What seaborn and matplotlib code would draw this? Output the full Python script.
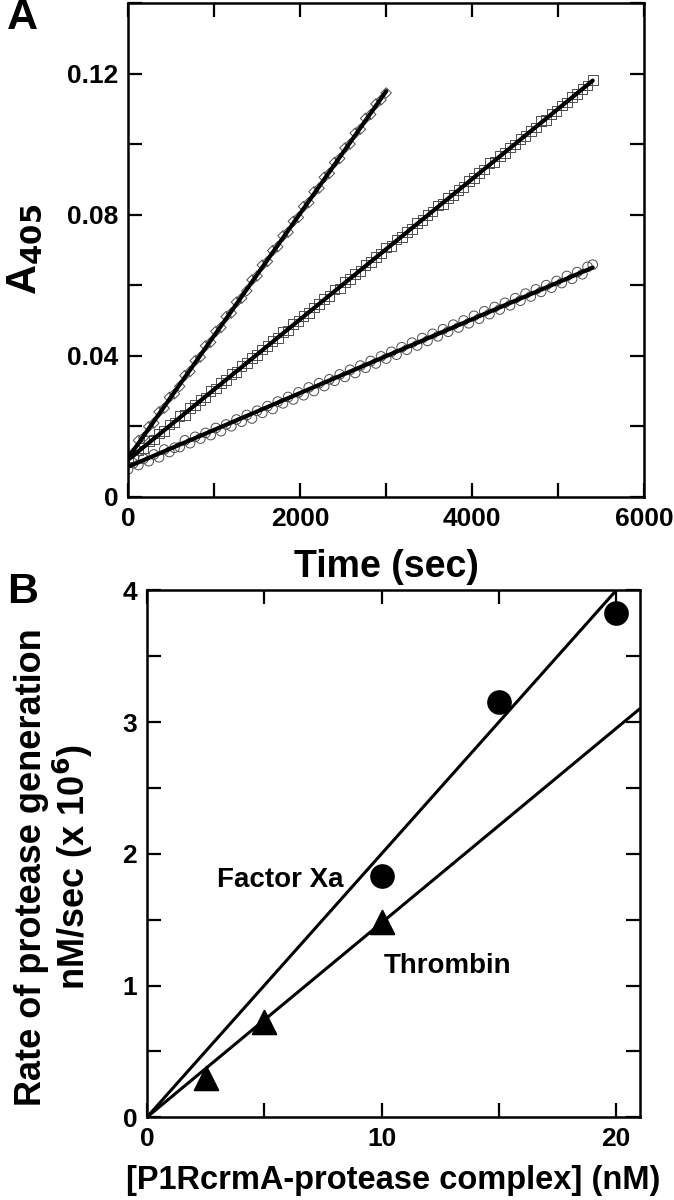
import numpy as np
import pandas as pd
import matplotlib
matplotlib.use("Agg")
import matplotlib.pyplot as plt
import seaborn as sns

# ---------------- data ----------------
time_s = [0, 60, 120, 180, 240, 300, 360, 420, 480, 540,
          600, 660, 720, 780, 840, 900, 960, 1020, 1080, 1140,
          1200, 1260, 1320, 1380, 1440, 1500, 1560, 1620, 1680, 1740,
          1800, 1860, 1920, 1980, 2040, 2100, 2160, 2220, 2280, 2340,
          2400, 2460, 2520, 2580, 2640, 2700, 2760, 2820, 2880, 2940,
          3000, 3060, 3120, 3180, 3240, 3300, 3360, 3420, 3480, 3540,
          3600, 3660, 3720, 3780, 3840, 3900, 3960, 4020, 4080, 4140,
          4200, 4260, 4320, 4380, 4440, 4500, 4560, 4620, 4680, 4740,
          4800, 4860, 4920, 4980, 5040, 5100, 5160, 5220, 5280, 5340,
          5400]

a405_diamond = [0.0118, 0.0124, 0.0160, 0.0168, 0.0199, 0.0209, 0.0241, 0.0251, 0.0282, 0.0292,
                0.0313, 0.0344, 0.0355, 0.0386, 0.0396, 0.0428, 0.0438, 0.0469, 0.0480, 0.0511,
                0.0521, 0.0552, 0.0563, 0.0584, 0.0615, 0.0626, 0.0657, 0.0667, 0.0698, 0.0709,
                0.0740, 0.0750, 0.0781, 0.0792, 0.0823, 0.0834, 0.0865, 0.0875, 0.0906, 0.0917,
                0.0948, 0.0959, 0.0989, 0.1000, 0.1031, 0.1042, 0.1073, 0.1084, 0.1114, 0.1125,
                0.1145]

a405_square = [0.0110, 0.0112, 0.0131, 0.0138, 0.0158, 0.0162, 0.0180, 0.0186, 0.0205, 0.0211,
               0.0229, 0.0232, 0.0251, 0.0260, 0.0275, 0.0282, 0.0300, 0.0307, 0.0323, 0.0331,
               0.0349, 0.0353, 0.0370, 0.0380, 0.0393, 0.0402, 0.0418, 0.0427, 0.0442, 0.0450,
               0.0468, 0.0471, 0.0490, 0.0498, 0.0512, 0.0521, 0.0537, 0.0546, 0.0560, 0.0570,
               0.0588, 0.0591, 0.0609, 0.0618, 0.0632, 0.0640, 0.0657, 0.0665, 0.0680, 0.0690,
               0.0707, 0.0711, 0.0729, 0.0737, 0.0751, 0.0760, 0.0776, 0.0784, 0.0799, 0.0809,
               0.0826, 0.0830, 0.0848, 0.0856, 0.0870, 0.0879, 0.0895, 0.0904, 0.0918, 0.0928,
               0.0946, 0.0950, 0.0967, 0.0975, 0.0990, 0.0999, 0.1014, 0.1023, 0.1037, 0.1047,
               0.1065, 0.1069, 0.1086, 0.1094, 0.1109, 0.1118, 0.1133, 0.1142, 0.1156, 0.1166,
               0.1182]

a405_circle = [0.0078, 0.0095, 0.0090, 0.0108, 0.0101, 0.0120, 0.0112, 0.0134, 0.0127, 0.0139,
               0.0141, 0.0160, 0.0152, 0.0170, 0.0165, 0.0181, 0.0175, 0.0195, 0.0186, 0.0205,
               0.0200, 0.0219, 0.0213, 0.0232, 0.0222, 0.0244, 0.0238, 0.0257, 0.0249, 0.0270,
               0.0265, 0.0283, 0.0276, 0.0296, 0.0288, 0.0310, 0.0300, 0.0322, 0.0314, 0.0333,
               0.0329, 0.0347, 0.0340, 0.0360, 0.0351, 0.0372, 0.0366, 0.0385, 0.0378, 0.0398,
               0.0392, 0.0411, 0.0403, 0.0424, 0.0417, 0.0437, 0.0429, 0.0450, 0.0442, 0.0462,
               0.0455, 0.0475, 0.0468, 0.0488, 0.0480, 0.0500, 0.0492, 0.0513, 0.0505, 0.0526,
               0.0518, 0.0538, 0.0531, 0.0550, 0.0543, 0.0563, 0.0556, 0.0576, 0.0568, 0.0588,
               0.0581, 0.0600, 0.0593, 0.0612, 0.0606, 0.0626, 0.0618, 0.0637, 0.0631, 0.0652,
               0.0658]

fit_time_diamond = [0, 3000]
fit_a405_diamond = [0.0110, 0.1150]
fit_time_square = [0, 5400]
fit_a405_square = [0.0105, 0.1180]
fit_time_circle = [0, 5400]
fit_a405_circle = [0.0085, 0.0650]

conc_xa = [10, 15, 20]
rate_xa = [1.83, 3.15, 3.83]
conc_th = [2.5, 5, 10]
rate_th = [0.30, 0.72, 1.48]
fit_conc = [0, 21]
fit_rate_xa = [0.0, 4.20]
fit_rate_th = [0.0, 3.10]

# ---------------- style ----------------
sns.set_theme(style="ticks")
plt.rcParams["font.family"] = ["Liberation Sans", "DejaVu Sans"]
plt.rcParams["font.weight"] = "bold"
plt.rcParams["axes.labelweight"] = "bold"
plt.rcParams["mathtext.default"] = "bf"
for key in ["text.color", "axes.labelcolor", "xtick.color", "ytick.color", "axes.edgecolor"]:
    plt.rcParams[key] = "black"

fig = plt.figure(figsize=(6.74, 12.0), dpi=100)
axA = fig.add_axes([0.190, 0.586, 0.766, 0.4115])
axB = fig.add_axes([0.218, 0.069, 0.731, 0.439])

def style_axes(ax):
    for s in ax.spines.values():
        s.set_linewidth(1.8)
        s.set_color("black")
    ax.tick_params(which="both", direction="in", top=True, right=True,
                   length=10, width=1.6, colors="black", labelcolor="black",
                   labelsize=19, pad=7)
    for lab in ax.get_xticklabels() + ax.get_yticklabels():
        lab.set_fontweight("bold")

# ---------------- panel A ----------------
n_d = len(a405_diamond)
sns.scatterplot(x=time_s[:n_d], y=a405_diamond, marker="D", s=28, facecolors="none",
                edgecolor="0.3", linewidth=0.7, ax=axA, zorder=2)
sns.scatterplot(x=time_s, y=a405_square, marker="s", s=48, facecolors="none",
                edgecolor="0.3", linewidth=0.7, ax=axA, zorder=2)
sns.scatterplot(x=time_s, y=a405_circle, marker="o", s=48, facecolors="none",
                edgecolor="0.3", linewidth=0.7, ax=axA, zorder=2)
sns.lineplot(x=fit_time_diamond, y=fit_a405_diamond, color="black", lw=3, ax=axA, zorder=3)
sns.lineplot(x=fit_time_square, y=fit_a405_square, color="black", lw=3, ax=axA, zorder=3)
sns.lineplot(x=fit_time_circle, y=fit_a405_circle, color="black", lw=3, ax=axA, zorder=3)

axA.set_xlim(0, 6000)
axA.set_ylim(0, 0.14)
axA.set_xticks([0, 1000, 2000, 3000, 4000, 5000, 6000])
axA.set_xticklabels(["0", "", "2000", "", "4000", "", "6000"])
axA.set_yticks([0, 0.02, 0.04, 0.06, 0.08, 0.10, 0.12, 0.14])
axA.set_yticklabels(["0", "", "0.04", "", "0.08", "", "0.12", ""])
axA.set_xlabel("Time (sec)", fontsize=27, fontweight="bold", labelpad=13)
axA.set_ylabel(r"A$_{\mathbf{405}}$", fontsize=30, fontweight="bold", labelpad=16)
style_axes(axA)

# ---------------- panel B ----------------
sns.scatterplot(x=conc_xa, y=rate_xa, marker="o", s=270, color="black",
                edgecolor="black", ax=axB, zorder=3, clip_on=False)
sns.scatterplot(x=conc_th, y=rate_th, marker="^", s=290, color="black",
                edgecolor="black", ax=axB, zorder=3, clip_on=False)
sns.lineplot(x=fit_conc, y=fit_rate_xa, color="black", lw=2.2, ax=axB, zorder=2)
sns.lineplot(x=fit_conc, y=fit_rate_th, color="black", lw=2.2, ax=axB, zorder=2)

axB.set_xlim(0, 21)
axB.set_ylim(0, 4)
axB.set_xticks([0, 5, 10, 15, 20])
axB.set_xticklabels(["0", "", "10", "", "20"])
axB.set_yticks([0, 0.5, 1, 1.5, 2, 2.5, 3, 3.5, 4])
axB.set_yticklabels(["0", "", "1", "", "2", "", "3", "", "4"])
axB.set_xlabel("[P1RcrmA-protease complex] (nM)", fontsize=23.5, fontweight="bold", labelpad=10)
axB.set_ylabel("Rate of protease generation\n" + r"nM/sec (x 10$^{\mathbf{6}}$)",
               fontsize=26, fontweight="bold", linespacing=1.05)
axB.yaxis.set_label_coords(-0.105, 0.475)
style_axes(axB)

axB.text(3.0, 1.8, "Factor Xa", fontsize=20, fontweight="bold", ha="left", va="center")
axB.text(10.1, 1.15, "Thrombin", fontsize=20, fontweight="bold", ha="left", va="center")

fig.text(0.010, 0.985, "A", fontsize=31, fontweight="bold", ha="left", va="center")
fig.text(0.010, 0.507, "B", fontsize=31, fontweight="bold", ha="left", va="center")

fig.savefig("out.png", dpi=100)
